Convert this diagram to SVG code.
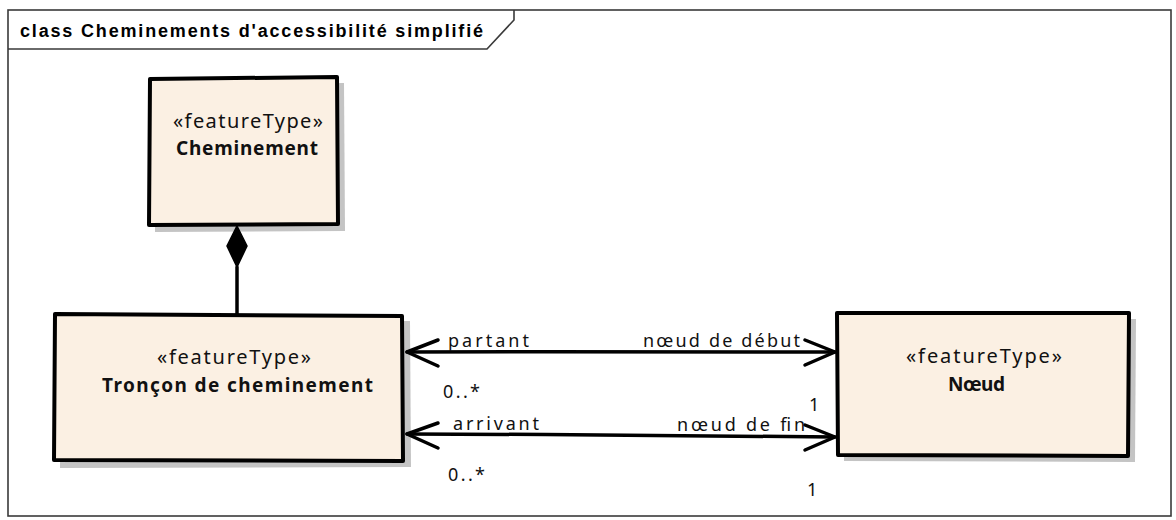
<svg xmlns="http://www.w3.org/2000/svg" width="1176" height="520" viewBox="0 0 1176 520">
<style>
.frame{fill:#fff;stroke:#3a3a3a;stroke-width:1.6}
.tab{fill:none;stroke:#3a3a3a;stroke-width:1.6}
.title{font-family:"Liberation Sans",Arial,sans-serif;font-weight:bold;font-size:18px;fill:#000}
.shadow{fill:#c4c4c4;stroke:none}
.box{fill:#fbf0e3;stroke:#000;stroke-width:4;stroke-linejoin:round}
.st{font-family:"Noto Sans","DejaVu Sans",sans-serif;font-size:20px;fill:#111}
.nm{font-family:"Noto Sans","DejaVu Sans",sans-serif;font-size:19px;font-weight:bold;fill:#111}
.lbl{font-family:"Noto Sans","DejaVu Sans",sans-serif;font-size:18px;fill:#111}
.ln{fill:none;stroke:#000;stroke-width:3.5;stroke-linecap:round;stroke-linejoin:round}
.dia{fill:#000;stroke:#000;stroke-width:1.5}
</style>
<rect class="frame" x="8" y="10" width="1163" height="506"/>
<path class="tab" d="M8,49 L487,49 L514,20 L514,10"/>
<text class="title" x="20" y="37" textLength="463">class Cheminements d'accessibilité simplifié</text>

<g id="node-cheminement">
  <path class="shadow" d="M156,85 L344,83 L345,231 L155,232 Z"/>
  <path class="box" d="M150,79 L337,77 L338,224 L149,225 Z"/>
  <text class="st" x="173" y="128" textLength="150">«featureType»</text>
  <text class="nm" x="176" y="155" textLength="142">Cheminement</text>
</g>

<g id="node-troncon">
  <path class="shadow" d="M61,321 L410,321 L411,467 L60,468 Z"/>
  <path class="box" d="M55,314 L402,316 L403,461 L54,460 Z"/>
  <text class="st" x="157" y="364" textLength="154">«featureType»</text>
  <text class="nm" x="102" y="392" textLength="271">Tronçon de cheminement</text>
</g>

<g id="node-noeud">
  <path class="shadow" d="M843,319 L1136,319 L1135,462 L844,461 Z"/>
  <path class="box" d="M837,313 L1129,313 L1128,456 L838,455 Z"/>
  <text class="st" x="906" y="363" textLength="156">«featureType»</text>
  <text class="nm" x="948" y="391" textLength="57">Nœud</text>
</g>

<g id="connectors">
  <g id="composition">
    <path class="ln" d="M237,267 L237,315"/>
    <path class="dia" d="M237,226 L247,246 L237,267 L227,246 Z"/>
  </g>
  <g id="assoc-debut">
    <path class="ln" d="M407,352 C550,351 700,353 835,352"/>
    <path class="ln" d="M438,340 L407,352 L438,366"/>
    <path class="ln" d="M805,340 L835,352 L805,365"/>
    <text class="lbl" x="448" y="347" textLength="81">partant</text>
    <text class="lbl" x="443" y="398" textLength="37">0..*</text>
    <text class="lbl" x="643" y="347" textLength="157">nœud de début</text>
    <text class="lbl" x="809" y="411">1</text>
  </g>
  <g id="assoc-fin">
    <path class="ln" d="M407,434 C550,434 700,436 835,437"/>
    <path class="ln" d="M438,423 L407,434 L438,448"/>
    <path class="ln" d="M805,425 L835,437 L805,450"/>
    <text class="lbl" x="453" y="430" textLength="86">arrivant</text>
    <text class="lbl" x="448" y="481" textLength="37">0..*</text>
    <text class="lbl" x="677" y="431" textLength="128">nœud de fin</text>
    <text class="lbl" x="807" y="496">1</text>
  </g>
</g>
</svg>
